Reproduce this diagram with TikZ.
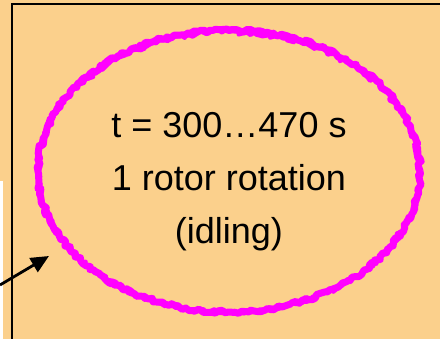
\documentclass[tikz,border=0pt]{standalone}
\usepackage{fontspec}
\setmainfont{Liberation Sans}
\usetikzlibrary{decorations.pathmorphing,arrows.meta}
\definecolor{bgpeach}{HTML}{FBD08C}
\definecolor{ringmag}{HTML}{FF00FF}
\tikzset{
  frameline/.style={line width=2.6pt, black},
  roughring/.style={draw=ringmag, line width=7pt, line join=round, decorate,
    decoration={random steps, segment length=3pt, amplitude=1.8pt}},
  pointer/.style={line width=2.8pt, black, -{Triangle[length=18pt,width=16pt]}},
  label/.style={align=center, font=\fontsize{36}{53}\selectfont, text=black}
}
\begin{document}
\begin{tikzpicture}[x=1pt,y=-1pt]
  \useasboundingbox (0,0) rectangle (440,339);
  \fill[bgpeach] (0,0) rectangle (440,339);
  \fill[white] (0,181) rectangle (3,339);
  \draw[frameline] (12,339) -- (12,4) -- (440,4);
  \pgfmathsetseed{7}
  \draw[roughring] (229,171) ellipse [x radius=191, y radius=141];
  \pgfmathsetseed{21}
  \draw[roughring, line width=4pt, decoration={random steps, segment length=4pt, amplitude=2.6pt}] (229,172) ellipse [x radius=190, y radius=140];
  \node[label] (txt) at (229,182) {t = 300…470 s\\1 rotor rotation\\(idling)};
  \coordinate (tail) at (0,285);
  \coordinate (tip) at (49,256);
  \draw[pointer] (tail) -- (tip);
\end{tikzpicture}
\end{document}
